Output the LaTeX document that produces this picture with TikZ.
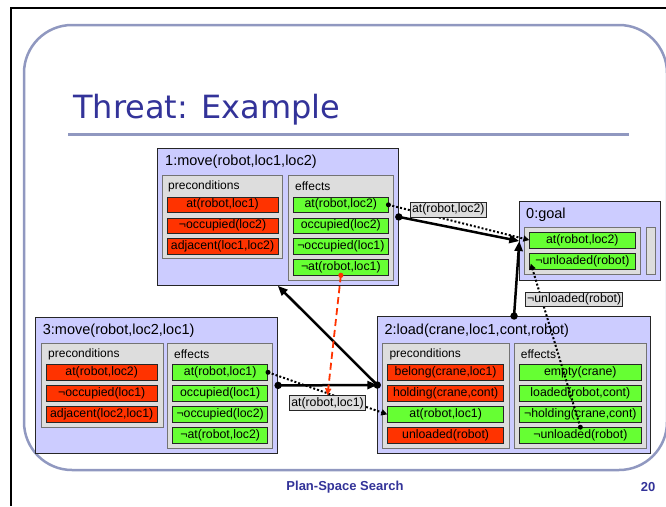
\documentclass[tikz,border=0pt]{standalone}
\usepackage{fontspec}
\setmainfont{Liberation Sans}
\newfontfamily\titlefont{DejaVu Sans}
\usetikzlibrary{arrows.meta,calc}
\definecolor{slideblue}{HTML}{333399}
\definecolor{framecol}{HTML}{9098C0}
\definecolor{actfill}{HTML}{CCCCFF}
\definecolor{panelfill}{HTML}{DDDDDD}
\definecolor{prered}{HTML}{FF3300}
\definecolor{effgreen}{HTML}{66FF33}
\pgfdeclarelayer{front}
\pgfsetlayers{main,front}
\begin{document}
\begin{tikzpicture}[x=1pt,y=-1pt,
  act/.style={draw=black!85, fill=actfill, line width=0.8pt, inner sep=0pt, anchor=north west},
  panel/.style={draw=black!55, fill=panelfill, line width=0.8pt, inner sep=0pt, anchor=north west},
  item/.style={draw=black!85, line width=0.7pt, inner sep=0pt, anchor=north west,
               minimum height=15.5pt, font=\fontsize{12.3}{14}\selectfont},
  pre/.style={item, fill=prered},
  eff/.style={item, fill=effgreen},
  acttitle/.style={anchor=west, inner sep=0pt, font=\fontsize{14.5}{16}\selectfont},
  seclabel/.style={anchor=west, inner sep=0pt, font=\fontsize{12}{14}\selectfont},
  linklabel/.style={draw=black!85, fill=panelfill, line width=0.7pt, inner sep=1.5pt,
               font=\fontsize{12.3}{14}\selectfont},
  order/.style={line width=2.5pt, -{Triangle[length=10pt,width=8pt]}},
  causal/.style={line width=2pt, dash pattern=on 2pt off 2pt, -{Triangle[length=6pt,width=6pt]}},
  threat/.style={draw=prered, line width=1.8pt, dash pattern=on 7pt off 4pt,
               -{Triangle[length=7pt,width=6pt]}}
]
\useasboundingbox (0,0) rectangle (666,506);
\fill[white] (0,0) rectangle (666,506);

% slide edge and frame
\draw[line width=1.3pt] (11,506) -- (11,8) -- (666,8);
\draw[framecol, line width=2.5pt, rounded corners=48pt] (24,25) rectangle (667,470);
\draw[framecol, line width=3pt] (68,134) -- (629,134);
\node[anchor=base west, inner sep=0pt, font=\titlefont\fontsize{32}{36}\selectfont, text=slideblue]
  (title) at (73,118) {Threat: Example};

% action 1
\node[act, minimum width=241.3pt, minimum height=137pt] (a1) at (156.7,148) {};
\node[acttitle] (a1t) at (165,162) {1:move(robot,loc1,loc2)};
\node[panel, minimum width=120pt, minimum height=83pt] (a1pre) at (161.7,175) {};
\node[seclabel] (a1pl) at (168,186.5) {preconditions};
\node[pre, minimum width=111pt] (a1p1) at (166.7,196.7) {at(robot,loc1)};
\node[pre, minimum width=111pt] (a1p2) at (166.7,217.5) {¬occupied(loc2)};
\node[pre, minimum width=111pt] (a1p3) at (166.7,238.3) {adjacent(loc1,loc2)};
\node[panel, minimum width=105pt, minimum height=105pt] (a1eff) at (288.3,175) {};
\node[seclabel] (a1el) at (295,186.5) {effects};
\node[eff, minimum width=94.4pt] (a1e1) at (293.3,196.7) {at(robot,loc2)};
\node[eff, minimum width=94.4pt] (a1e2) at (293.3,217.5) {occupied(loc2)};
\node[eff, minimum width=94.4pt] (a1e3) at (293.3,238.3) {¬occupied(loc1)};
\node[eff, minimum width=94.4pt] (a1e4) at (293.3,259.1) {¬at(robot,loc1)};

% action 3
\node[act, minimum width=242.3pt, minimum height=136.6pt] (a3) at (35,316.7) {};
\node[acttitle] (a3t) at (42.7,330.7) {3:move(robot,loc2,loc1)};
\node[panel, minimum width=122pt, minimum height=84.6pt] (a3pre) at (40.7,342.7) {};
\node[seclabel] (a3pl) at (48,354.3) {preconditions};
\node[pre, minimum width=110.7pt] (a3p1) at (46,364.2) {at(robot,loc2)};
\node[pre, minimum width=110.7pt] (a3p2) at (46,385.2) {¬occupied(loc1)};
\node[pre, minimum width=110.7pt] (a3p3) at (46,406.2) {adjacent(loc2,loc1)};
\node[panel, minimum width=105.6pt, minimum height=105.6pt] (a3eff) at (166.7,342.7) {};
\node[seclabel] (a3el) at (174,354.3) {effects};
\node[eff, minimum width=95pt] (a3e1) at (172.3,364.2) {at(robot,loc1)};
\node[eff, minimum width=95pt] (a3e2) at (172.3,385.2) {occupied(loc1)};
\node[eff, minimum width=95pt] (a3e3) at (172.3,406.2) {¬occupied(loc2)};
\node[eff, minimum width=95pt] (a3e4) at (172.3,427.2) {¬at(robot,loc2)};

% action 2
\node[act, minimum width=272.7pt, minimum height=137.3pt] (a2) at (377.3,316) {};
\node[acttitle] (a2t) at (384.3,330.7) {2:load(crane,loc1,cont,robot)};
\node[panel, minimum width=126.4pt, minimum height=105.6pt] (a2pre) at (382.3,342.7) {};
\node[seclabel] (a2pl) at (389.3,354.3) {preconditions};
\node[pre, minimum width=116pt] (a2p1) at (387.3,364.3) {belong(crane,loc1)};
\node[pre, minimum width=116pt] (a2p2) at (387.3,385.3) {holding(crane,cont)};
\node[eff, minimum width=116pt] (a2p3) at (387.3,406.3) {at(robot,loc1)};
\node[pre, minimum width=116pt] (a2p4) at (387.3,427.2) {unloaded(robot)};
\node[panel, minimum width=131.7pt, minimum height=105.6pt] (a2eff) at (514,342.7) {};
\node[seclabel] (a2el) at (520.7,354.3) {effects};
\node[eff, minimum width=121.4pt] (a2e1) at (519.3,364.3) {empty(crane)};
\node[eff, minimum width=121.4pt] (a2e2) at (519.3,385.3) {loaded(robot,cont)};
\node[eff, minimum width=121.4pt] (a2e3) at (519.3,406.3) {¬holding(crane,cont)};
\node[eff, minimum width=121.4pt] (a2e4) at (519.3,427.2) {¬unloaded(robot)};

% goal
\node[act, minimum width=140.5pt, minimum height=78.7pt] (g) at (519.3,201.3) {};
\node[acttitle] (gt) at (526,215) {0:goal};
\node[panel, minimum width=116pt, minimum height=47.6pt] (gpre) at (524,226.7) {};
\node[panel, minimum width=9.6pt, minimum height=47.6pt] (gside) at (645.7,226.7) {};
\node[eff, minimum width=105.4pt, minimum height=16pt] (ge1) at (529.3,231.7) {at(robot,loc2)};
\node[eff, minimum width=105.4pt, minimum height=16pt] (ge2) at (529.3,252.7) {¬unloaded(robot)};

% link labels, kept above the connectors
\begin{pgfonlayer}{front}
\node[linklabel] (L1) at (448.3,209.7) {at(robot,loc2)};
\node[linklabel] (L2) at (574.2,299.3) {¬unloaded(robot)};
\node[linklabel] (L3) at (327.5,403) {at(robot,loc1)};
\end{pgfonlayer}

% ordering constraints
\draw[order] (a1.east) -- (g.west);
\draw[order] (a2.north) -- (g.west);
\draw[order] (a2.west) -- (a1.south);
\draw[order] (a3.east) -- (a2.west);
\fill (a1.east) circle (3.7);
\fill (a2.north) circle (3.7);
\fill (a2.west) circle (3.7);
\fill (a3.east) circle (3.7);

% causal links
\draw[causal] (a1e1.east) -- (ge1.west);
\draw[causal] (a2e4.north) -- ([shift={(1.5,2.5)}]ge2.west);
\draw[causal] (a3e1.east) -- (a2p3.west);
\fill (a1e1.east) circle (2.5);
\fill (a2e4.north) circle (2.5);
\fill (a3e1.east) circle (2.5);

% threat
\draw[threat] (a1e4.south) -- (L3.north);
\fill[prered] (a1e4.south) circle (2.6);

% footer
\node[font=\bfseries\fontsize{13}{15}\selectfont, text=slideblue] (foot) at (345,487) {Plan-Space Search};
\node[font=\bfseries\fontsize{13}{15}\selectfont, text=slideblue] (pageno) at (648,487) {20};
\end{tikzpicture}
\end{document}
